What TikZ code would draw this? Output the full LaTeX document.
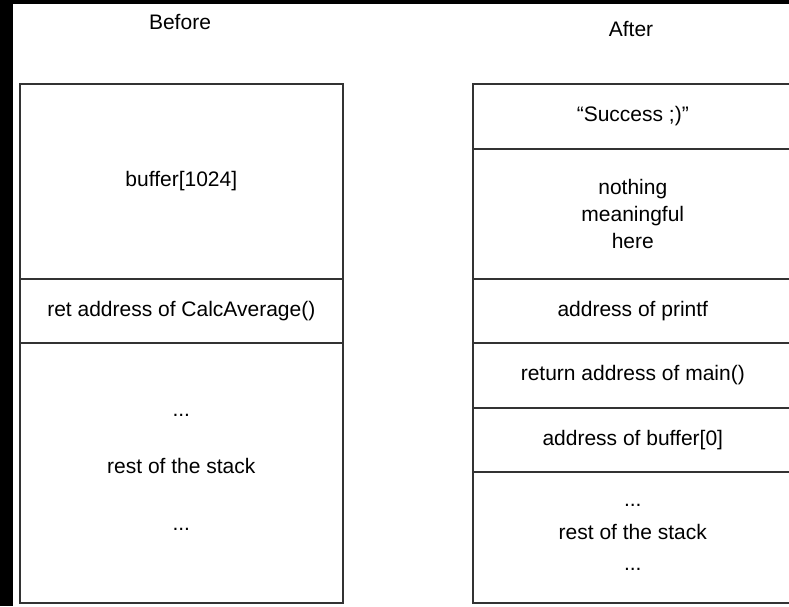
\documentclass[tikz,border=0pt]{standalone}
\usepackage{fontspec}
\setmainfont{Liberation Sans}
\begin{document}
\begin{tikzpicture}[x=1pt,y=-1pt,
  txt/.style={font=\fontsize{21}{27}\selectfont, text=black, inner sep=0pt},
  cell/.style={txt, draw=black!80, line width=1.6pt, anchor=north west, align=center, minimum height=#1},
  lcell/.style={cell=#1, minimum width=323pt},
  rcell/.style={cell=#1, minimum width=320pt}]
\useasboundingbox (0,0) rectangle (789,606);
\clip (0,0) rectangle (789,606);
\fill[white] (0,0) rectangle (789,606);
\fill[black] (0,0) rectangle (13,606);
\fill[black] (0,0) rectangle (789,4);
% titles
\node[txt] (before) at (180,22) {Before};
\node[txt] (after) at (631,29) {After};
% before stack
\node[lcell=195pt] (buf) at (19,83) {buffer[1024]};
\node[lcell=64pt] (ret) at (19,278) {ret address of CalcAverage()};
\node[lcell=260pt] (restL) at (19,342) {...\\[30pt]rest of the stack\\[30pt]...};
% after stack
\node[rcell=65pt] (succ) at (472,83) {“Success ;)”};
\node[rcell=130pt] (nothing) at (472,148) {nothing\\meaningful\\here};
\node[rcell=64pt] (printf) at (472,278) {address of printf};
\node[rcell=65pt] (retmain) at (472,342) {return address of main()};
\node[rcell=64pt] (addrbuf) at (472,407) {address of buffer[0]};
\node[rcell=131pt] (restR) at (472,471) {...\\[6pt]rest of the stack\\[4pt]...};
\end{tikzpicture}
\end{document}
